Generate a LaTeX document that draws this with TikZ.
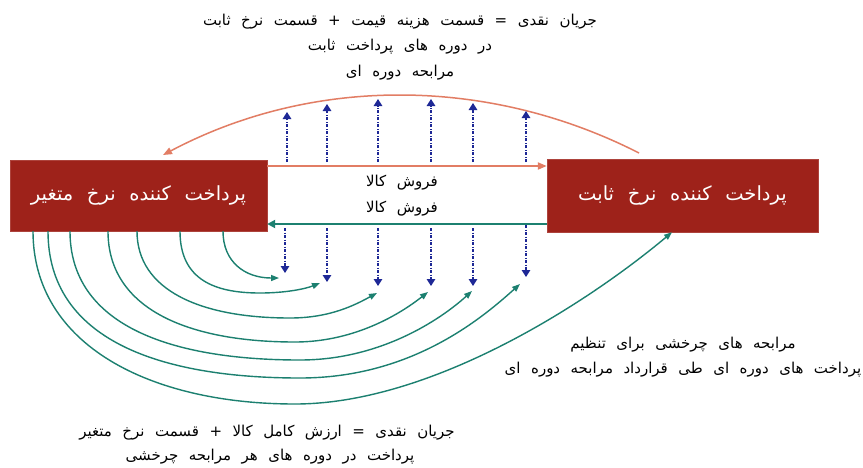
\documentclass[tikz,border=0pt]{standalone}
\usepackage{fontspec}
\usetikzlibrary{arrows.meta}
\TeXXeTstate=1
\newfontfamily\fa[Script=Arabic,WordSpace=2]{DejaVu Sans}
\newfontfamily\fabox[Script=Arabic,WordSpace=2.2]{DejaVu Sans}
\definecolor{boxred}{RGB}{158,34,26}
\definecolor{salmon}{RGB}{226,125,100}
\definecolor{tealc}{RGB}{28,128,112}
\definecolor{navyc}{RGB}{30,40,150}
\begin{document}
\begin{tikzpicture}[x=1pt,y=-1pt,
  payer/.style={draw=boxred!85!white, fill=boxred, text=white, inner sep=0pt, font=\fabox\fontsize{19.5}{22}\selectfont},
  note/.style={inner sep=0pt, text=black, font=\fa\fontsize{15}{18}\selectfont},
  salmonline/.style={draw=salmon, line width=2pt, -{Triangle[length=9pt,width=7pt]}},
  salmonarc/.style={draw=salmon, line width=1.5pt, -{Triangle[length=9pt,width=7pt]}},
  tealline/.style={draw=tealc, line width=2.5pt, -{Triangle[length=8pt,width=8pt]}},
  tealcurve/.style={draw=tealc, line width=1.4pt, -{Triangle[length=8pt,width=6pt]}},
  bluedot/.style={draw=navyc, line width=1.4pt, dash pattern=on 3pt off 1.5pt on 1pt off 1.5pt, -{Triangle[length=7pt,width=8.5pt]}}
]
\fill[white] (0,0) rectangle (863,467);
\useasboundingbox (0,0) rectangle (863,467);

% boxes
\node[payer, minimum width=257pt, minimum height=71pt] (L) at (138.5,195.5) {\beginR پرداخت کننده نرخ متغیر\endR};
\node[payer, minimum width=271pt, minimum height=73pt] (R) at (682.5,195.5) {\beginR پرداخت کننده نرخ ثابت\endR};

% texts
\node[note] (t1) at (400,22) {\beginR جریان نقدی = قسمت هزینه قیمت + قسمت نرخ ثابت\endR};
\node[note] (t2) at (400,47) {\beginR در دوره های پرداخت ثابت\endR};
\node[note] (t3) at (400,73) {\beginR مرابحه دوره ای\endR};
\node[note] (m1) at (402,183) {\beginR فروش کالا\endR};
\node[note] (m2) at (402,209) {\beginR فروش کالا\endR};
\node[note] (r1) at (683,345) {\beginR مرابحه های چرخشی برای تنظیم\endR};
\node[note] (r2) at (683,370) {\beginR پرداخت های دوره ای طی قرارداد مرابحه دوره ای\endR};
\node[note] (b1) at (267,433) {\beginR جریان نقدی = ارزش کامل کالا + قسمت نرخ متغیر\endR};
\node[note] (b2) at (270,457) {\beginR پرداخت در دوره های هر مرابحه چرخشی\endR};

% straight flows
\draw[salmonline] (L.east |- 0,166) -- (R.west |- 0,166);
\draw[tealline] (R.west |- 0,224) -- (L.east |- 0,224);

% top arc
\coordinate (aS) at (639,153);
\coordinate (aE) at (163,155);
\draw[salmonarc] (aS) .. controls (488,76) and (312,76) .. (aE);

% up arrows
\foreach \x/\t in {287/112,327/104,378/99,431/99,473/103,526/111}{
  \coordinate (ub\x) at (\x,162);
  \coordinate (ut\x) at (\x,\t);
  \draw[bluedot] (ub\x) -- (ut\x);
}
% down arrows
\foreach \x/\s/\t in {285/228/273,327/228/282,378/228/286,431/228/286,473/228/286,526/225/277}{
  \coordinate (db\x) at (\x,\s);
  \coordinate (dt\x) at (\x,\t);
  \draw[bluedot] (db\x) -- (dt\x);
}

% teal curves from left box
\coordinate (s1) at (223,0 |- L.south); \coordinate (e1) at (279,278);
\coordinate (s2) at (180,0 |- L.south); \coordinate (e2) at (320,283);
\coordinate (s3) at (137,0 |- L.south); \coordinate (e3) at (377,293);
\coordinate (s4) at (108,0 |- L.south); \coordinate (e4) at (428,292);
\coordinate (s5) at (70,0 |- L.south);  \coordinate (e5) at (472,291);
\coordinate (s6) at (48,0 |- L.south);  \coordinate (e6) at (520,284);
\coordinate (s7) at (33,0 |- L.south);  \coordinate (e7) at (672,0 |- R.south);

\draw[tealcurve] (s1) .. controls (223,262) and (245,278) .. (e1);
\draw[tealcurve] (s2) .. controls (180,280) and (215,293) .. (260,293) .. controls (285,293) and (305,289) .. (e2);
\draw[tealcurve] (s3) .. controls (137,290) and (200,318) .. (290,318) .. controls (330,318) and (355,305) .. (e3);
\draw[tealcurve] (s4) .. controls (108,310) and (190,342) .. (295,342) .. controls (350,342) and (395,318) .. (e4);
\draw[tealcurve] (s5) .. controls (70,325) and (170,360) .. (300,360) .. controls (380,360) and (440,320) .. (e5);
\draw[tealcurve] (s6) .. controls (48,340) and (160,378) .. (300,378) .. controls (410,378) and (480,320) .. (e6);
\draw[tealcurve] (s7) .. controls (33,345) and (150,404) .. (295,404) .. controls (430,404) and (585,305) .. (e7);
\end{tikzpicture}
\end{document}
